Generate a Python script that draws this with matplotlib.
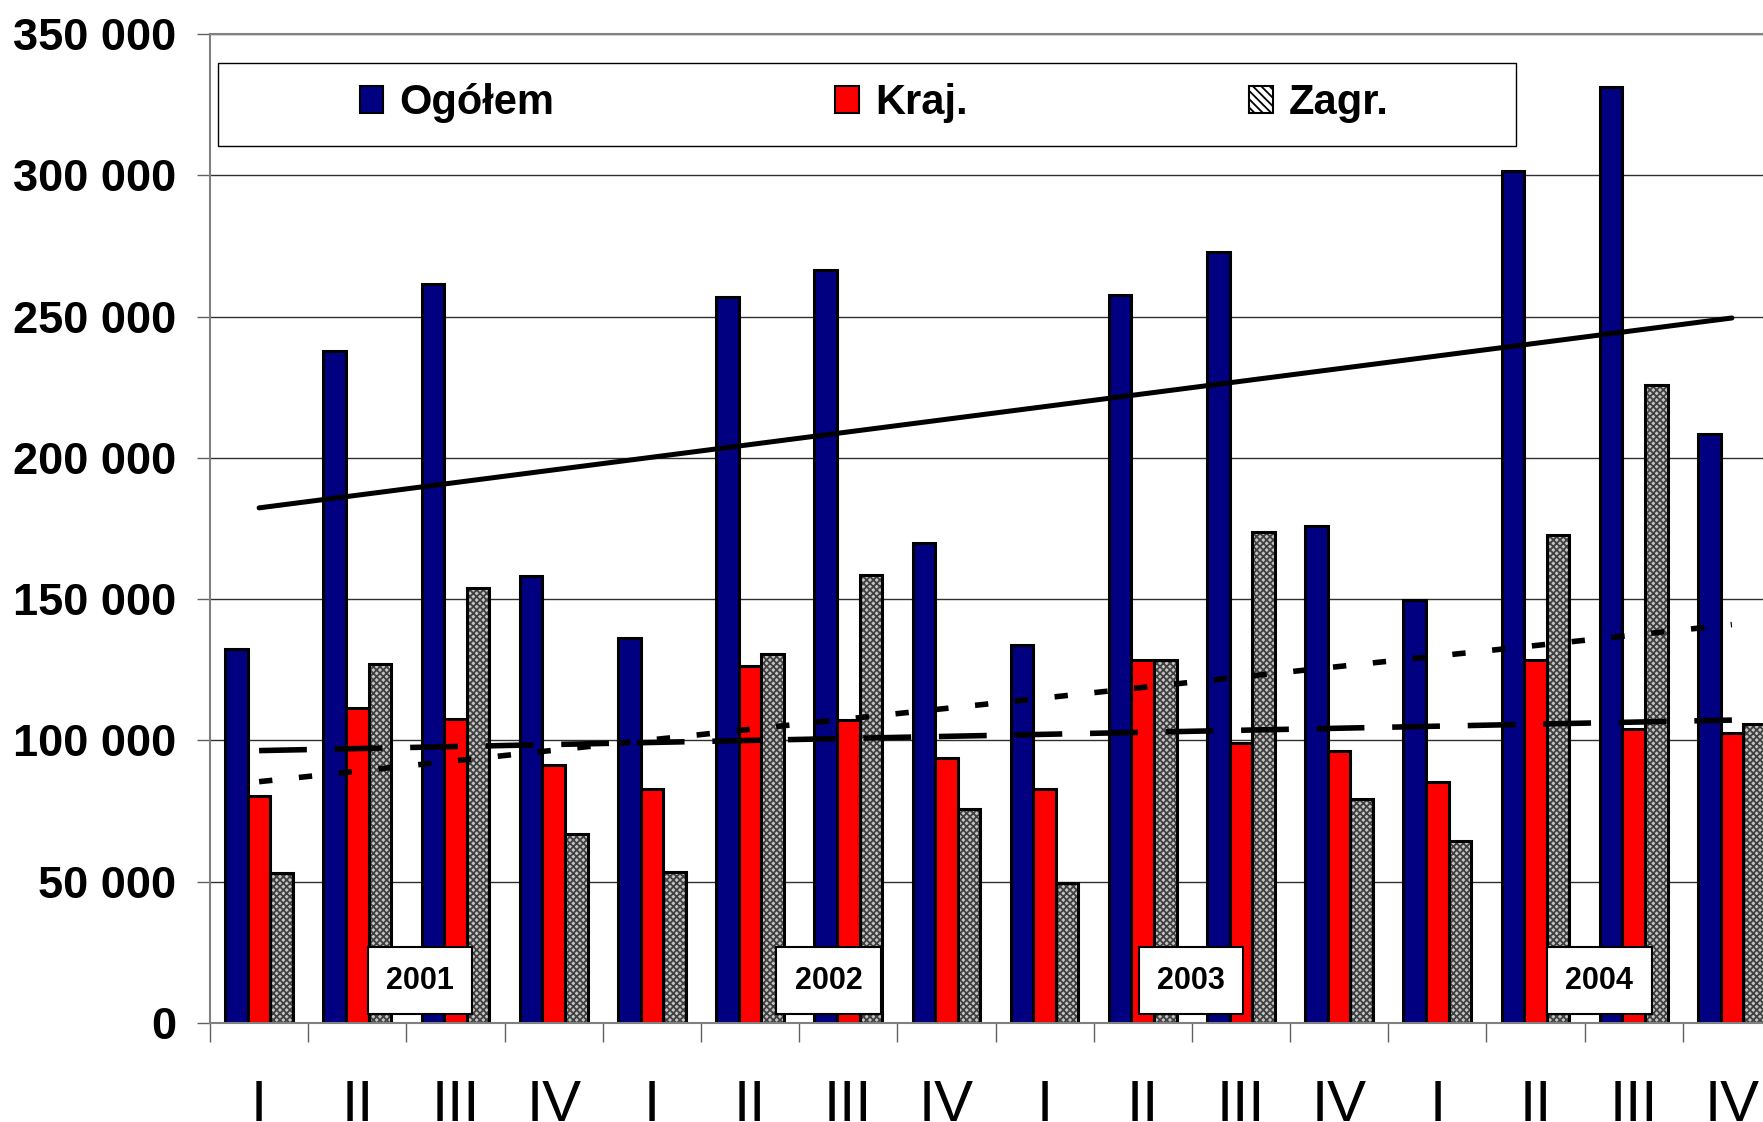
import matplotlib
matplotlib.use("Agg")
import matplotlib.pyplot as plt
import numpy as np
from matplotlib.patches import Rectangle
from matplotlib.ticker import FuncFormatter, FixedLocator

# quarterly values 2001-2004
quarters = ["I", "II", "III", "IV"] * 4
years = ["2001", "2002", "2003", "2004"]
year_pos = [1.64, 5.80, 9.49, 13.65]

ogolem = np.array([132500, 237900, 261700, 158300,
                   136400, 257000, 266500, 169800,
                   133600, 257800, 272900, 175800,
                   149600, 301500, 331300, 208400])
kraj = np.array([80300, 111400, 107500, 91400,
                 82800, 126500, 107400, 93900,
                 82700, 128600, 99000, 96400,
                 85400, 128400, 103900, 102700])
zagr = np.array([53200, 126900, 153900, 67000,
                 53300, 130500, 158700, 75600,
                 49700, 128400, 173800, 79300,
                 64500, 172600, 225900, 105700])

# trend lines (first and last quarter)
trend_x = [0, 15]
trend_ogolem = [182300, 249500]
trend_kraj = [96400, 107200]
trend_zagr = [85400, 141000]

navy = "#000080"
red = "#ff0000"

plt.rcParams["hatch.linewidth"] = 1.3

fig = plt.figure(figsize=(17.63, 11.22), dpi=100)
ax = fig.add_axes([210 / 1763, 99 / 1122, 1571 / 1763, 989 / 1122])

x = np.arange(len(quarters))
w = 0.23

ax.bar(x - w, ogolem, w, color=navy, edgecolor="black", linewidth=2.2, zorder=2)
ax.bar(x, kraj, w, color=red, edgecolor="black", linewidth=2.2, zorder=2)
ax.bar(x + w, zagr, w, color="#c4c4c4", edgecolor="#404040", hatch="xxxxx",
       linewidth=0, zorder=2)
ax.bar(x + w, zagr, w, fill=False, edgecolor="black", linewidth=2.2, zorder=2)

ax.plot(trend_x, trend_ogolem, color="black", lw=3.6, solid_capstyle="round", zorder=3)
ax.plot(trend_x, trend_kraj, color="black", lw=4, dashes=(8.6, 5), zorder=3)
ax.plot(trend_x, trend_zagr, color="black", lw=4, dashes=(2.4, 4.8), zorder=3)

ax.set_xlim(-0.5, 15.5)
ax.set_ylim(0, 350000)

ax.yaxis.set_major_locator(FixedLocator(np.arange(0, 350001, 50000)))
ax.yaxis.set_major_formatter(FuncFormatter(lambda v, p: f"{v:,.0f}".replace(",", " ")))
ax.grid(axis="y", color="#303030", lw=1, zorder=0)
ax.set_axisbelow(True)

for lab in ax.get_yticklabels():
    lab.set_fontfamily("Liberation Sans")
    lab.set_fontweight("bold")
    lab.set_fontsize(32.5)
ax.tick_params(axis="y", length=9.4, width=1, color="#606060", pad=15)

ax.set_xticks(x)
ax.set_xticklabels(quarters, family=["Liberation Sans Narrow", "Liberation Sans"], fontsize=42)
ax.set_xticks(np.arange(-0.5, 16, 1), minor=True)
ax.tick_params(axis="x", which="major", length=0, pad=40)
ax.tick_params(axis="x", which="minor", length=14, width=1, color="#606060")

for s in ["left", "bottom", "top"]:
    ax.spines[s].set_color("#808080")
    ax.spines[s].set_linewidth(1.5)
ax.spines["right"].set_visible(False)

for yr, xp in zip(years, year_pos):
    ax.text(xp, 15000, yr, ha="center", va="center", fontsize=22, fontweight="bold",
            family="Liberation Sans", zorder=5,
            bbox=dict(boxstyle="square,pad=0.6", fc="white", ec="black", lw=1.5))

# legend frame and entries
fig.add_artist(Rectangle((218 / 1763, (1122 - 146) / 1122), 1298 / 1763, 83 / 1122,
                         transform=fig.transFigure, fc="white", ec="black", lw=1, zorder=6))
handles = [Rectangle((0, 0), 1, 1, fc=navy, ec="black", lw=1.5),
           Rectangle((0, 0), 1, 1, fc=red, ec="black", lw=1.5),
           Rectangle((0, 0), 1, 1, fc="white", ec="black", lw=1.5, hatch="\\\\\\\\")]
leg = fig.legend(handles, ["Ogółem", "Kraj.", "Zagr."], ncol=3, loc="center",
                 bbox_to_anchor=(874 / 1763, (1122 - 103) / 1122), frameon=False,
                 prop=dict(family="Liberation Sans", weight="bold", size=30),
                 handlelength=0.57, handleheight=0.62, handletextpad=0.38,
                 columnspacing=6.75)
leg.set_zorder(7)

fig.savefig("out.png", dpi=100)
